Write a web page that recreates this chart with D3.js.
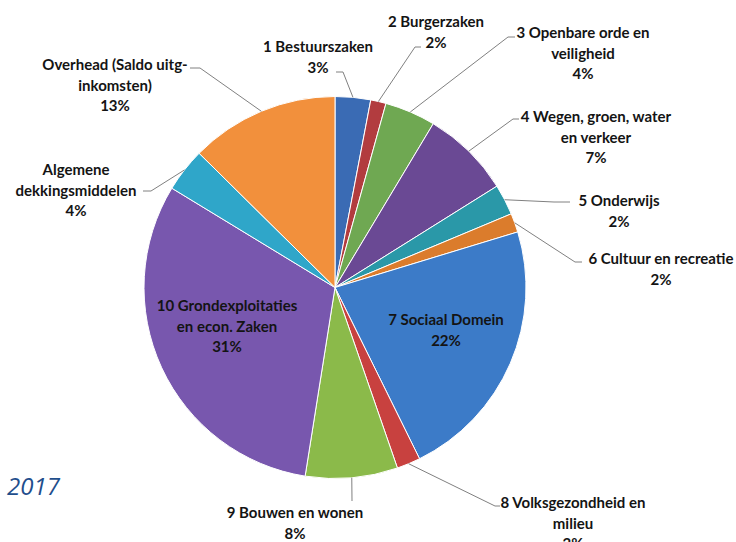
<!DOCTYPE html>
<meta charset="utf-8">
<style>
  body { margin: 0; background: #fff; }
  text { font-family: Lato, "Open Sans", sans-serif; font-weight: bold; font-size: 15px; fill: #141414; }
  .year { font-family: "Open Sans", sans-serif; font-style: italic; font-weight: normal; font-size: 24px; fill: #1f4e8c; }
  .leader { fill: none; stroke: #808080; stroke-width: 1px; }
</style>

<body>
  <script src="https://cdn.jsdelivr.net/npm/d3@7"></script>
  <script>

    // slices, clockwise from 12 o'clock
    var categories = [
      ["1 Bestuurszaken"],
      ["2 Burgerzaken"],
      ["3 Openbare orde en", "veiligheid"],
      ["4 Wegen, groen, water", "en verkeer"],
      ["5 Onderwijs"],
      ["6 Cultuur en recreatie"],
      ["7 Sociaal Domein"],
      ["8 Volksgezondheid en", "milieu"],
      ["9 Bouwen en wonen"],
      ["10 Grondexploitaties", "en econ. Zaken"],
      ["Algemene", "dekkingsmiddelen"],
      ["Overhead (Saldo uitg-", "inkomsten)"]
    ];
    var values = [3.0, 1.3, 4.3, 7.5, 2.6, 1.6, 22.4, 2.0, 7.8, 31.2, 3.7, 12.6];
    var pctLabels = ["3%", "2%", "4%", "7%", "2%", "2%", "22%", "2%", "8%", "31%", "4%", "13%"];
    var colors = ["#3a6bb4", "#b23c3f", "#6fa852", "#6a4994", "#2a98a8", "#db7c2c",
      "#3c7bc8", "#c8413f", "#8bba4a", "#7857ae", "#2fa6c9", "#f2903c"];

    // label placement: first line centre, leader elbow, leader end (null = inside)
    var labelPos = [
      { x: 318, y: 47, elbow: [343, 72], end: [336, 72] },
      { x: 436, y: 22, elbow: [415, 47], end: [421, 47] },
      { x: 583, y: 33, elbow: [508, 37], end: [515, 37] },
      { x: 596, y: 117, elbow: [513, 119], end: [519, 119] },
      { x: 619, y: 201, elbow: [554, 202], end: [570, 202] },
      { x: 661, y: 259, elbow: [575, 262], end: [582, 262] },
      { x: 446, y: 320, elbow: null },
      { x: 573, y: 503, elbow: [495, 506], end: [500, 506] },
      { x: 295, y: 513, elbow: [352, 501], end: [352, 501] },
      { x: 227, y: 306, elbow: null },
      { x: 76, y: 170, elbow: [151, 191], end: [143, 191] },
      { x: 115, y: 65, elbow: [200, 68], end: [190, 68] }
    ];

    var width = 736, height = 542,
      cx = 335, cy = 287.5, radius = 191,
      lineH = 20.5;

    var data = values.map(function (v, i) {
      return { name: categories[i], value: v, pct: pctLabels[i], color: colors[i], pos: labelPos[i] };
    });

    var svg = d3.select("body").append("svg")
      .attr("width", width)
      .attr("height", height);

    var pie = d3.pie()
      .sort(null)
      .value(function (d) { return d.value; });

    var arc = d3.arc().innerRadius(0).outerRadius(radius);
    var edge = d3.arc().innerRadius(radius).outerRadius(radius);

    var g = svg.append("g")
      .attr("transform", "translate(" + cx + "," + cy + ")");

    var arcs = pie(data);

    g.selectAll("path.slice")
      .data(arcs)
      .enter().append("path")
      .attr("class", "slice")
      .attr("d", arc)
      .style("fill", function (d) { return d.data.color; })
      .style("stroke", "#fff")
      .style("stroke-width", 1);

    // leader lines
    svg.selectAll("path.leader")
      .data(arcs.filter(function (d) { return d.data.pos.elbow; }))
      .enter().append("path")
      .attr("class", "leader")
      .attr("d", function (d) {
        var p = edge.centroid(d);
        return d3.line()([[cx + p[0], cy + p[1]], d.data.pos.elbow, d.data.pos.end]);
      });

    // labels
    var labels = svg.selectAll("text.lbl")
      .data(data)
      .enter().append("text")
      .attr("class", "lbl")
      .attr("text-anchor", "middle");

    labels.each(function (d) {
      var t = d3.select(this);
      d.name.concat([d.pct]).forEach(function (line, k) {
        t.append("tspan")
          .attr("x", d.pos.x)
          .attr("y", d.pos.y + k * lineH)
          .attr("dy", "0.35em")
          .text(line);
      });
    });

    svg.append("text")
      .attr("class", "year")
      .attr("x", 7)
      .attr("y", 495)
      .text("2017");

  </script>
</body>

</html>
